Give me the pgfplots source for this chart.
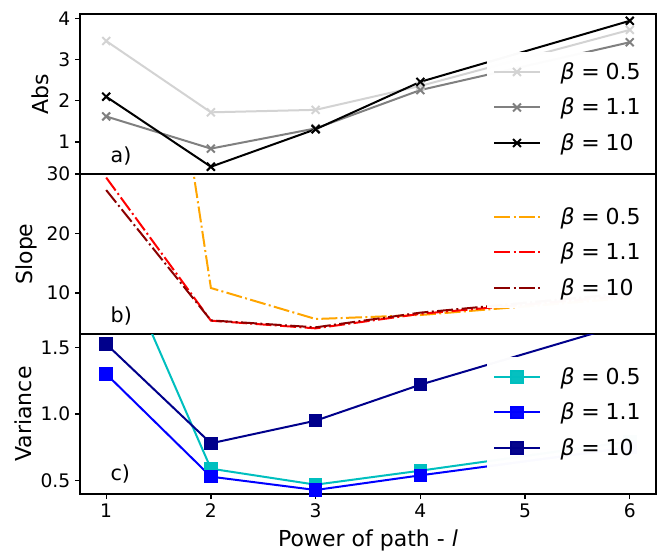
\documentclass[border=0pt]{standalone}
\usepackage{pgfplots}
\pgfplotsset{compat=1.18}
\usepackage{fontspec}
\setmainfont{DejaVu Sans}
\definecolor{lgray}{RGB}{211,211,211}
\definecolor{mgray}{RGB}{128,128,128}
\definecolor{orng}{RGB}{255,165,0}
\definecolor{dred}{RGB}{139,0,0}
\definecolor{cyn}{RGB}{0,191,191}
\definecolor{dblue}{RGB}{0,0,139}
\pgfplotsset{
  every axis/.append style={
    scale only axis, width=432pt, height=120pt,
    xmin=0.75, xmax=6.25,
    axis line style={line width=0.9pt},
    tick align=outside, ytick pos=left,
    major tick length=3.75pt,
    every tick/.style={black, line width=0.9pt},
    tick label style={font=\fontsize{14}{16}\selectfont},
    label style={font=\fontsize{16.5}{19}\selectfont},
    xlabel style={yshift=-2pt},
    /pgf/number format/assume math mode=true,
    legend cell align=left,
    legend style={draw=none, fill=white, fill opacity=0.98, text opacity=1,
      font=\fontsize{16.5}{19}\selectfont, anchor=east,
      row sep=8.5pt, inner xsep=5pt, inner ysep=6pt,
      /tikz/every odd column/.append style={column sep=13pt}},
    legend image code/.code={\draw[mark repeat=2,mark phase=2,#1] plot coordinates {(0pt,0pt) (17pt,0pt) (34pt,0pt)};},
  },
}
\newcommand{\bt}[1]{\textit{β}\hspace{0.3em}=\hspace{0.27em}#1}
\begin{document}
\begin{tikzpicture}
% panel a
\begin{axis}[at={(60pt,-130.5pt)}, anchor=south west,
  ymin=0.224, ymax=4.105, ytick={1,2,3,4}, xtick=\empty,
  ylabel={Abs},
  legend style={at={(0.99,0.416)}}]
\addplot[lgray, line width=1.5pt, mark=x, mark size=4.2pt] coordinates {(1,3.45) (2,1.72) (3,1.78) (4,2.36) (6,3.72)};
\addplot[mgray, line width=1.5pt, mark=x, mark size=4.2pt] coordinates {(1,1.62) (2,0.84) (3,1.33) (4,2.26) (6,3.42)};
\addplot[black, line width=1.5pt, mark=x, mark size=4.2pt] coordinates {(1,2.10) (2,0.40) (3,1.31) (4,2.46) (6,3.94)};
\legend{\bt{0.5},\bt{1.1},\bt{10}}
\node[anchor=west, font=\fontsize{15.5}{18}\selectfont] at (rel axis cs:0.045,0.11) {a)};
\end{axis}
% panel b
\begin{axis}[at={(60pt,-250.5pt)}, anchor=south west,
  ymin=3.11, ymax=30, ytick={10,20,30}, xtick=\empty,
  ylabel={Slope},
  legend style={at={(0.99,0.51)}}]
\addplot[orng, line width=1.5pt, dash pattern=on 12pt off 2.5pt on 1.5pt off 2.5pt] coordinates {(1,127) (2,10.84) (3,5.63) (4,6.3) (6,9.2)};
\addplot[red, line width=1.5pt, dash pattern=on 12pt off 2.5pt on 1.5pt off 2.5pt] coordinates {(1,29.4) (2,5.35) (3,4.06) (4,6.5) (6,9.6)};
\addplot[dred, line width=1.5pt, dash pattern=on 12pt off 2.5pt on 1.5pt off 2.5pt] coordinates {(1,27.3) (2,5.4) (3,4.23) (4,6.7) (6,10.0)};
\legend{\bt{0.5},\bt{1.1},\bt{10}}
\node[anchor=west, font=\fontsize{15.5}{18}\selectfont] at (rel axis cs:0.045,0.11) {b)};
\end{axis}
% panel c
\begin{axis}[at={(60pt,-370.5pt)}, anchor=south west,
  ymin=0.4, ymax=1.6, ytick={0.5,1.0,1.5},
  yticklabel style={/pgf/number format/.cd, fixed, fixed zerofill, precision=1},
  xtick={1,2,3,4,5,6}, xtick pos=bottom,
  ylabel={Variance}, xlabel={Power of path - \textit{l}},
  legend style={at={(0.99,0.51)}}]
\addplot[cyn, line width=1.5pt, mark=square*, mark size=4.3pt] coordinates {(1,2.39) (2,0.59) (3,0.47) (4,0.575) (6,0.795)};
\addplot[blue, line width=1.5pt, mark=square*, mark size=4.3pt] coordinates {(1,1.30) (2,0.53) (3,0.43) (4,0.54) (6,0.75)};
\addplot[dblue, line width=1.5pt, mark=square*, mark size=4.3pt] coordinates {(1,1.525) (2,0.78) (3,0.95) (4,1.22) (6,1.685)};
\legend{\bt{0.5},\bt{1.1},\bt{10}}
\node[anchor=west, font=\fontsize{15.5}{18}\selectfont] at (rel axis cs:0.045,0.125) {c)};
\end{axis}
\pgfresetboundingbox
\useasboundingbox (0pt,0pt) rectangle (492.75pt,-412.5pt);
\end{tikzpicture}
\end{document}
